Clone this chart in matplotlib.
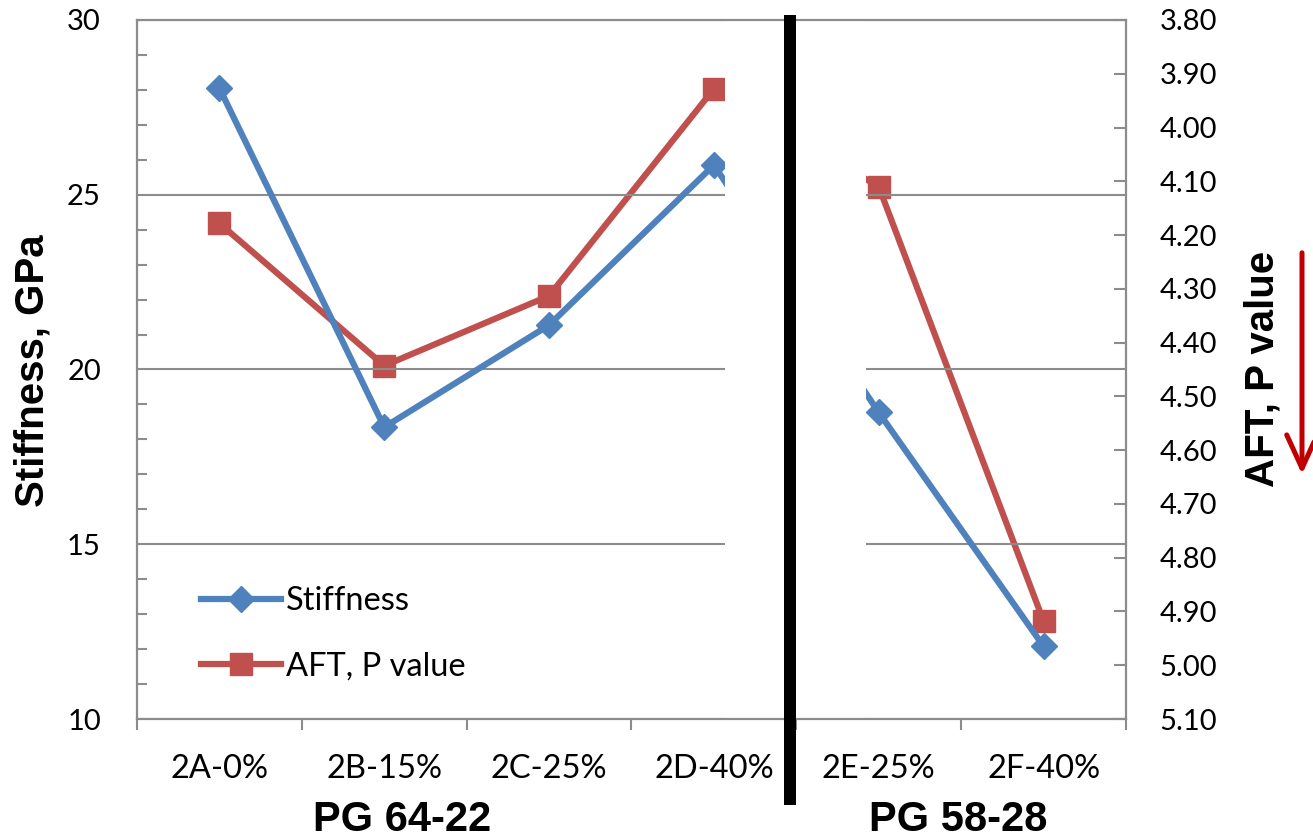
import matplotlib
matplotlib.use("Agg")
import matplotlib.pyplot as plt
from matplotlib.patches import Rectangle, FancyArrowPatch
from matplotlib.transforms import blended_transform_factory
from matplotlib.lines import Line2D
import numpy as np

# Mixes and their measured properties
categories = ['2A-0%', '2B-15%', '2C-25%', '2D-40%', '2E-25%', '2F-40%']
stiffness = [28.05, 18.35, 21.27, 25.85, 18.77, 12.08]
aft_p = [4.178, 4.443, 4.313, 3.928, 4.110, 4.918]
groups = ['PG 64-22', 'PG 58-28']
group_centers = [1.11, 4.48]

BLUE = '#4F81BD'
RED = '#C0504D'
GRAY = '#8C8C8C'
TICK_FONT = 'Lato'
BOLD_FONT = 'Liberation Sans'

fig = plt.figure(figsize=(13.13, 8.38), dpi=100)
ax = fig.add_axes([137 / 1313, 1 - 719 / 838, (1126 - 137) / 1313, (719 - 20) / 838])
ax2 = ax.twinx()
ax.set_zorder(ax2.get_zorder() + 1)
ax.patch.set_visible(False)

x = np.arange(len(categories))

# AFT series on the secondary (inverted) axis
ax2.plot(x, aft_p, color=RED, lw=4.5, marker='s', ms=15.5, zorder=2,
         solid_joinstyle='miter', label='AFT, P value')
# Stiffness series on the primary axis
ax.plot(x, stiffness, color=BLUE, lw=4.5, marker='D', ms=13.5, zorder=2,
        solid_joinstyle='miter', label='Stiffness')

ax.set_xlim(-0.5, len(categories) - 0.5)
ax.set_ylim(10, 30)
ax2.set_ylim(5.10, 3.80)

# Primary y axis
ax.set_yticks(np.arange(10, 31, 5))
ax.set_yticks(np.arange(10, 31, 1), minor=True)
ax.tick_params(axis='y', which='both', direction='in', color=GRAY, width=1.5,
               labelsize=21, pad=26)
ax.tick_params(axis='y', which='major', length=0)
ax.tick_params(axis='y', which='minor', length=7)
ax.yaxis.grid(True, which='major', color=GRAY, lw=1.5)
ax.set_axisbelow(True)

# Secondary y axis
ax2.set_yticks(np.round(np.arange(3.8, 5.101, 0.1), 2))
ax2.set_yticklabels([f'{v:.2f}' for v in np.arange(3.8, 5.101, 0.1)])
ax2.tick_params(axis='y', direction='in', color=GRAY, width=1.5, length=9,
                labelsize=21, pad=24)

# Category axis: labels centred, tick marks at the boundaries
ax.set_xticks(x)
ax.set_xticklabels(categories)
ax.set_xticks(np.arange(-0.5, len(categories), 1), minor=True)
ax.tick_params(axis='x', which='major', length=0, labelsize=23.5, pad=25)
ax.tick_params(axis='x', which='minor', direction='out', length=8, width=1.5, color=GRAY)

for lab in ax.get_xticklabels() + ax.get_yticklabels() + ax2.get_yticklabels():
    lab.set_fontfamily(TICK_FONT)

for a in (ax, ax2):
    for s in a.spines.values():
        s.set_color(GRAY)
        s.set_linewidth(1.6)
ax2.spines['left'].set_visible(False)
ax2.spines['top'].set_visible(False)
ax2.spines['bottom'].set_visible(False)
ax.spines['right'].set_visible(False)

# Blank band separating the two binder groups
band = Rectangle((3.07, 0.0), 3.92 - 3.07, 1.0,
                 transform=blended_transform_factory(ax.transData, ax.transAxes),
                 facecolor='white', edgecolor='none', zorder=2.3)
ax.add_patch(band)

# Thick divider bar
bar = Rectangle((3.427, 1 - 805 / 838), 3.5 - 3.427, (805 - 15) / 838,
                transform=blended_transform_factory(ax.transData, fig.transFigure),
                facecolor='black', edgecolor='none', zorder=10, clip_on=False)
fig.add_artist(bar)

# Axis titles
fig.text(33 / 1313, 1 - 371 / 838, 'Stiffness, GPa', rotation=90, ha='center', va='center',
         fontsize=29, fontweight='bold', family=BOLD_FONT)
fig.text(1263 / 1313, 1 - 369 / 838, 'AFT, P value', rotation=90, ha='center', va='center',
         fontsize=29, fontweight='bold', family=BOLD_FONT)

# Group labels
gtrans = blended_transform_factory(ax.transData, fig.transFigure)
for g, cx in zip(groups, group_centers):
    fig.text(cx, 1 - 831 / 838, g, transform=gtrans, ha='center', va='baseline',
             fontsize=30, fontweight='bold', family=BOLD_FONT)

# Arrow showing the direction of the inverted AFT scale
fig.patches.append(FancyArrowPatch(
    (1302 / 1313, 1 - 250 / 838), (1302 / 1313, 1 - 477 / 838),
    transform=fig.transFigure, arrowstyle='->,head_length=1.2,head_width=0.55',
    mutation_scale=20, color='#C00000', lw=3.6, figure=fig))

# Legend with both series
h1 = Line2D([], [], color=BLUE, lw=4.5, marker='D', ms=13.5)
h2 = Line2D([], [], color=RED, lw=4.5, marker='s', ms=15.5)
leg = ax.legend([h1, h2], ['Stiffness', 'AFT, P value'], loc='upper left',
                bbox_to_anchor=((201 - 137) / 989, (719 - 586) / 699), frameon=False,
                borderpad=0, borderaxespad=0, handlelength=2.45, handletextpad=0.15,
                labelspacing=1.1, prop={'family': TICK_FONT, 'size': 23.5})
leg.set_zorder(5)

fig.savefig('out.png', dpi=100)
